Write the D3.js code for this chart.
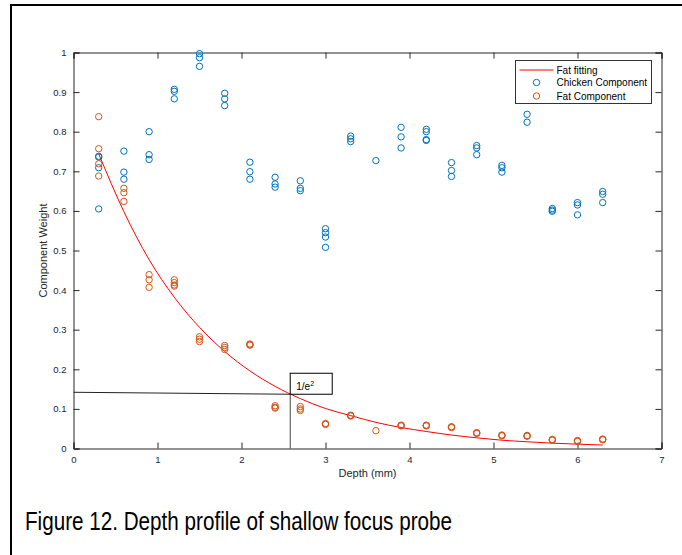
<!DOCTYPE html>
<html>
<head>
<meta charset="utf-8">
<script src="https://cdn.jsdelivr.net/npm/d3@7"></script>
<style>
  html, body { margin: 0; padding: 0; background: #fff; }
  svg { display: block; }
  text { font-family: "Liberation Sans", Arial, sans-serif; }
</style>
</head>
<body>
<svg id="chart" width="682" height="555"></svg>
<script>
// Depth positions of each measurement (mm)
const depths = [0.3, 0.6, 0.9, 1.2, 1.5, 1.8, 2.1, 2.4, 2.7, 3.0, 3.3, 3.6, 3.9, 4.2, 4.5, 4.8, 5.1, 5.4, 5.7, 6.0, 6.3];

// Chicken component weights, repeated measurements per depth
const chickenWeights = [
  [0.738, 0.736, 0.709, 0.605],
  [0.751, 0.698, 0.680],
  [0.800, 0.742, 0.730],
  [0.907, 0.902, 0.883],
  [0.997, 0.987, 0.965],
  [0.897, 0.883, 0.866],
  [0.723, 0.699, 0.680],
  [0.685, 0.668, 0.660],
  [0.676, 0.657, 0.651],
  [0.555, 0.545, 0.534, 0.508],
  [0.789, 0.782, 0.775],
  [0.727],
  [0.811, 0.787, 0.759],
  [0.806, 0.800, 0.780, 0.778],
  [0.722, 0.702, 0.687],
  [0.765, 0.759, 0.742],
  [0.715, 0.709, 0.698],
  [0.844, 0.824],
  [0.606, 0.602, 0.599],
  [0.621, 0.615, 0.590],
  [0.649, 0.642, 0.621]
];

// Fat component weights, repeated measurements per depth
const fatWeights = [
  [0.838, 0.757, 0.719, 0.688],
  [0.657, 0.646, 0.624],
  [0.439, 0.426, 0.407],
  [0.426, 0.419, 0.413, 0.410],
  [0.282, 0.276, 0.270],
  [0.260, 0.255, 0.250],
  [0.264, 0.262, 0.261],
  [0.108, 0.104, 0.102],
  [0.106, 0.100, 0.096],
  [0.063, 0.062, 0.061],
  [0.084, 0.083, 0.082],
  [0.045],
  [0.059, 0.058, 0.057],
  [0.059, 0.058, 0.057],
  [0.055, 0.054, 0.053],
  [0.040, 0.039, 0.038],
  [0.034, 0.033, 0.032],
  [0.033, 0.032, 0.031],
  [0.023, 0.022, 0.021],
  [0.020, 0.019, 0.018],
  [0.024, 0.023, 0.022]
];

// Exponential fit of the fat component, sampled at each depth
const fatFit = [0.744, 0.598, 0.477, 0.382, 0.306, 0.245, 0.196, 0.157, 0.126, 0.101, 0.083, 0.066, 0.053, 0.043, 0.034, 0.027, 0.021, 0.017, 0.0135, 0.011, 0.0087];

// 1/e^2 depth marker
const markerDepth = 2.58;
const markerLevel = [0.142, 0.137];

const xTicks = [0, 1, 2, 3, 4, 5, 6, 7];
const yTicks = [0, 0.1, 0.2, 0.3, 0.4, 0.5, 0.6, 0.7, 0.8, 0.9, 1];
const yTickLabels = ["0", "0.1", "0.2", "0.3", "0.4", "0.5", "0.6", "0.7", "0.8", "0.9", "1"];
const legendLabels = ["Fat fitting", "Chicken Component", "Fat Component"];

const axisColor = "#262626";
const blue = "#0072BD";
const orange = "#D95319";

const svg = d3.select("#chart");

// Page frame
svg.append("line").attr("x1", 10).attr("x2", 682).attr("y1", 5).attr("y2", 5)
  .attr("stroke", "#000").attr("stroke-width", 2);
svg.append("line").attr("x1", 11).attr("x2", 11).attr("y1", 4).attr("y2", 555)
  .attr("stroke", "#000").attr("stroke-width", 2);

const x = d3.scaleLinear().domain([0, 7]).range([73.5, 661.5]);
const y = d3.scaleLinear().domain([0, 1]).range([448.5, 52.5]);
const tickLen = 6;

const g = svg.append("g");

// Axes with inward ticks on all four sides
const xAxisB = d3.axisBottom(x).tickValues(xTicks).tickSize(-tickLen).tickPadding(8).tickFormat(d3.format("d"));
const xAxisT = d3.axisTop(x).tickValues(xTicks).tickSize(-tickLen).tickFormat("");
const yAxisL = d3.axisLeft(y).tickValues(yTicks).tickSize(-tickLen).tickPadding(7).tickFormat((d, i) => yTickLabels[i]);
const yAxisR = d3.axisRight(y).tickValues(yTicks).tickSize(-tickLen).tickFormat("");

function styleAxis(sel) {
  sel.selectAll(".domain").attr("stroke", axisColor).attr("stroke-width", 1);
  sel.selectAll(".tick line").attr("stroke", axisColor).attr("stroke-width", 1);
  sel.selectAll(".tick text").attr("fill", axisColor).attr("font-size", "9.5px")
    .attr("font-family", "'Liberation Sans', Arial, sans-serif");
}
g.append("g").attr("transform", `translate(0,${y(0)})`).call(xAxisB).call(styleAxis);
g.append("g").attr("transform", `translate(0,${y(1)})`).call(xAxisT).call(styleAxis);
g.append("g").attr("transform", `translate(${x(0)},0)`).call(yAxisL).call(styleAxis);
g.append("g").attr("transform", `translate(${x(7)},0)`).call(yAxisR).call(styleAxis);

// Axis titles
g.append("text").attr("x", (x(0) + x(7)) / 2).attr("y", 477)
  .attr("text-anchor", "middle").attr("font-size", "11px").attr("fill", axisColor)
  .text("Depth (mm)");
g.append("text").attr("transform", `translate(47,${(y(0) + y(1)) / 2}) rotate(-90)`)
  .attr("text-anchor", "middle").attr("font-size", "11px").attr("fill", axisColor)
  .text("Component Weight");

// Fit curve
const fitLine = d3.line().x((d, i) => x(depths[i])).y(d => y(d)).curve(d3.curveMonotoneX);
g.append("path").datum(fatFit).attr("d", fitLine)
  .attr("fill", "none").attr("stroke", "#FF0000").attr("stroke-width", 1);

// Flatten repeated measurements into points
function points(series) {
  const out = [];
  series.forEach((vals, i) => vals.forEach(v => out.push({ depth: depths[i], value: v })));
  return out;
}

g.append("g").selectAll("circle").data(points(chickenWeights)).join("circle")
  .attr("cx", d => x(d.depth)).attr("cy", d => y(d.value)).attr("r", 3.2)
  .attr("fill", "none").attr("stroke", blue).attr("stroke-width", 1);

g.append("g").selectAll("circle").data(points(fatWeights)).join("circle")
  .attr("cx", d => x(d.depth)).attr("cy", d => y(d.value)).attr("r", 3.2)
  .attr("fill", "none").attr("stroke", orange).attr("stroke-width", 1);

// 1/e^2 marker lines
g.append("line").attr("x1", x(0)).attr("y1", y(markerLevel[0]))
  .attr("x2", x(markerDepth)).attr("y2", y(markerLevel[1]))
  .attr("stroke", "#222").attr("stroke-width", 1);
g.append("line").attr("x1", x(markerDepth)).attr("y1", y(markerLevel[1]))
  .attr("x2", x(markerDepth)).attr("y2", y(0))
  .attr("stroke", "#444").attr("stroke-width", 1);

// 1/e^2 label box
const bx = x(markerDepth), by = y(markerLevel[1]);
g.append("rect").attr("x", bx).attr("y", by - 21).attr("width", 42).attr("height", 21)
  .attr("fill", "#fff").attr("stroke", "#000").attr("stroke-width", 1);
const lab = g.append("text").attr("x", bx + 6).attr("y", by - 4).attr("font-size", "10px").attr("fill", "#000");
lab.append("tspan").text("1/e");
lab.append("tspan").attr("font-size", "7px").attr("dy", -4).text("2");

// Legend
const lg = g.append("g").attr("transform", "translate(515.5,60.5)");
lg.append("rect").attr("width", 136).attr("height", 43)
  .attr("fill", "#fff").attr("stroke", "#333").attr("stroke-width", 1);
const rows = [9.5, 22, 35.5];
lg.append("line").attr("x1", 4).attr("x2", 38).attr("y1", rows[0]).attr("y2", rows[0])
  .attr("stroke", "#FF0000").attr("stroke-width", 1);
lg.append("circle").attr("cx", 21).attr("cy", rows[1]).attr("r", 3.2)
  .attr("fill", "none").attr("stroke", blue).attr("stroke-width", 1);
lg.append("circle").attr("cx", 21).attr("cy", rows[2]).attr("r", 3.2)
  .attr("fill", "none").attr("stroke", orange).attr("stroke-width", 1);
legendLabels.forEach((t, i) => {
  lg.append("text").attr("x", 41).attr("y", rows[i]).attr("dy", "0.35em")
    .attr("font-size", "10px").attr("fill", "#000").text(t);
});

// Figure caption
svg.append("text").attr("x", 25).attr("y", 529.5)
  .attr("font-family", "Carlito, Lato, 'Open Sans', sans-serif").attr("font-size", "25px").attr("fill", "#000")
  .attr("textLength", 427).attr("lengthAdjust", "spacingAndGlyphs")
  .text("Figure 12. Depth profile of shallow focus probe");
</script>
</body>
</html>
